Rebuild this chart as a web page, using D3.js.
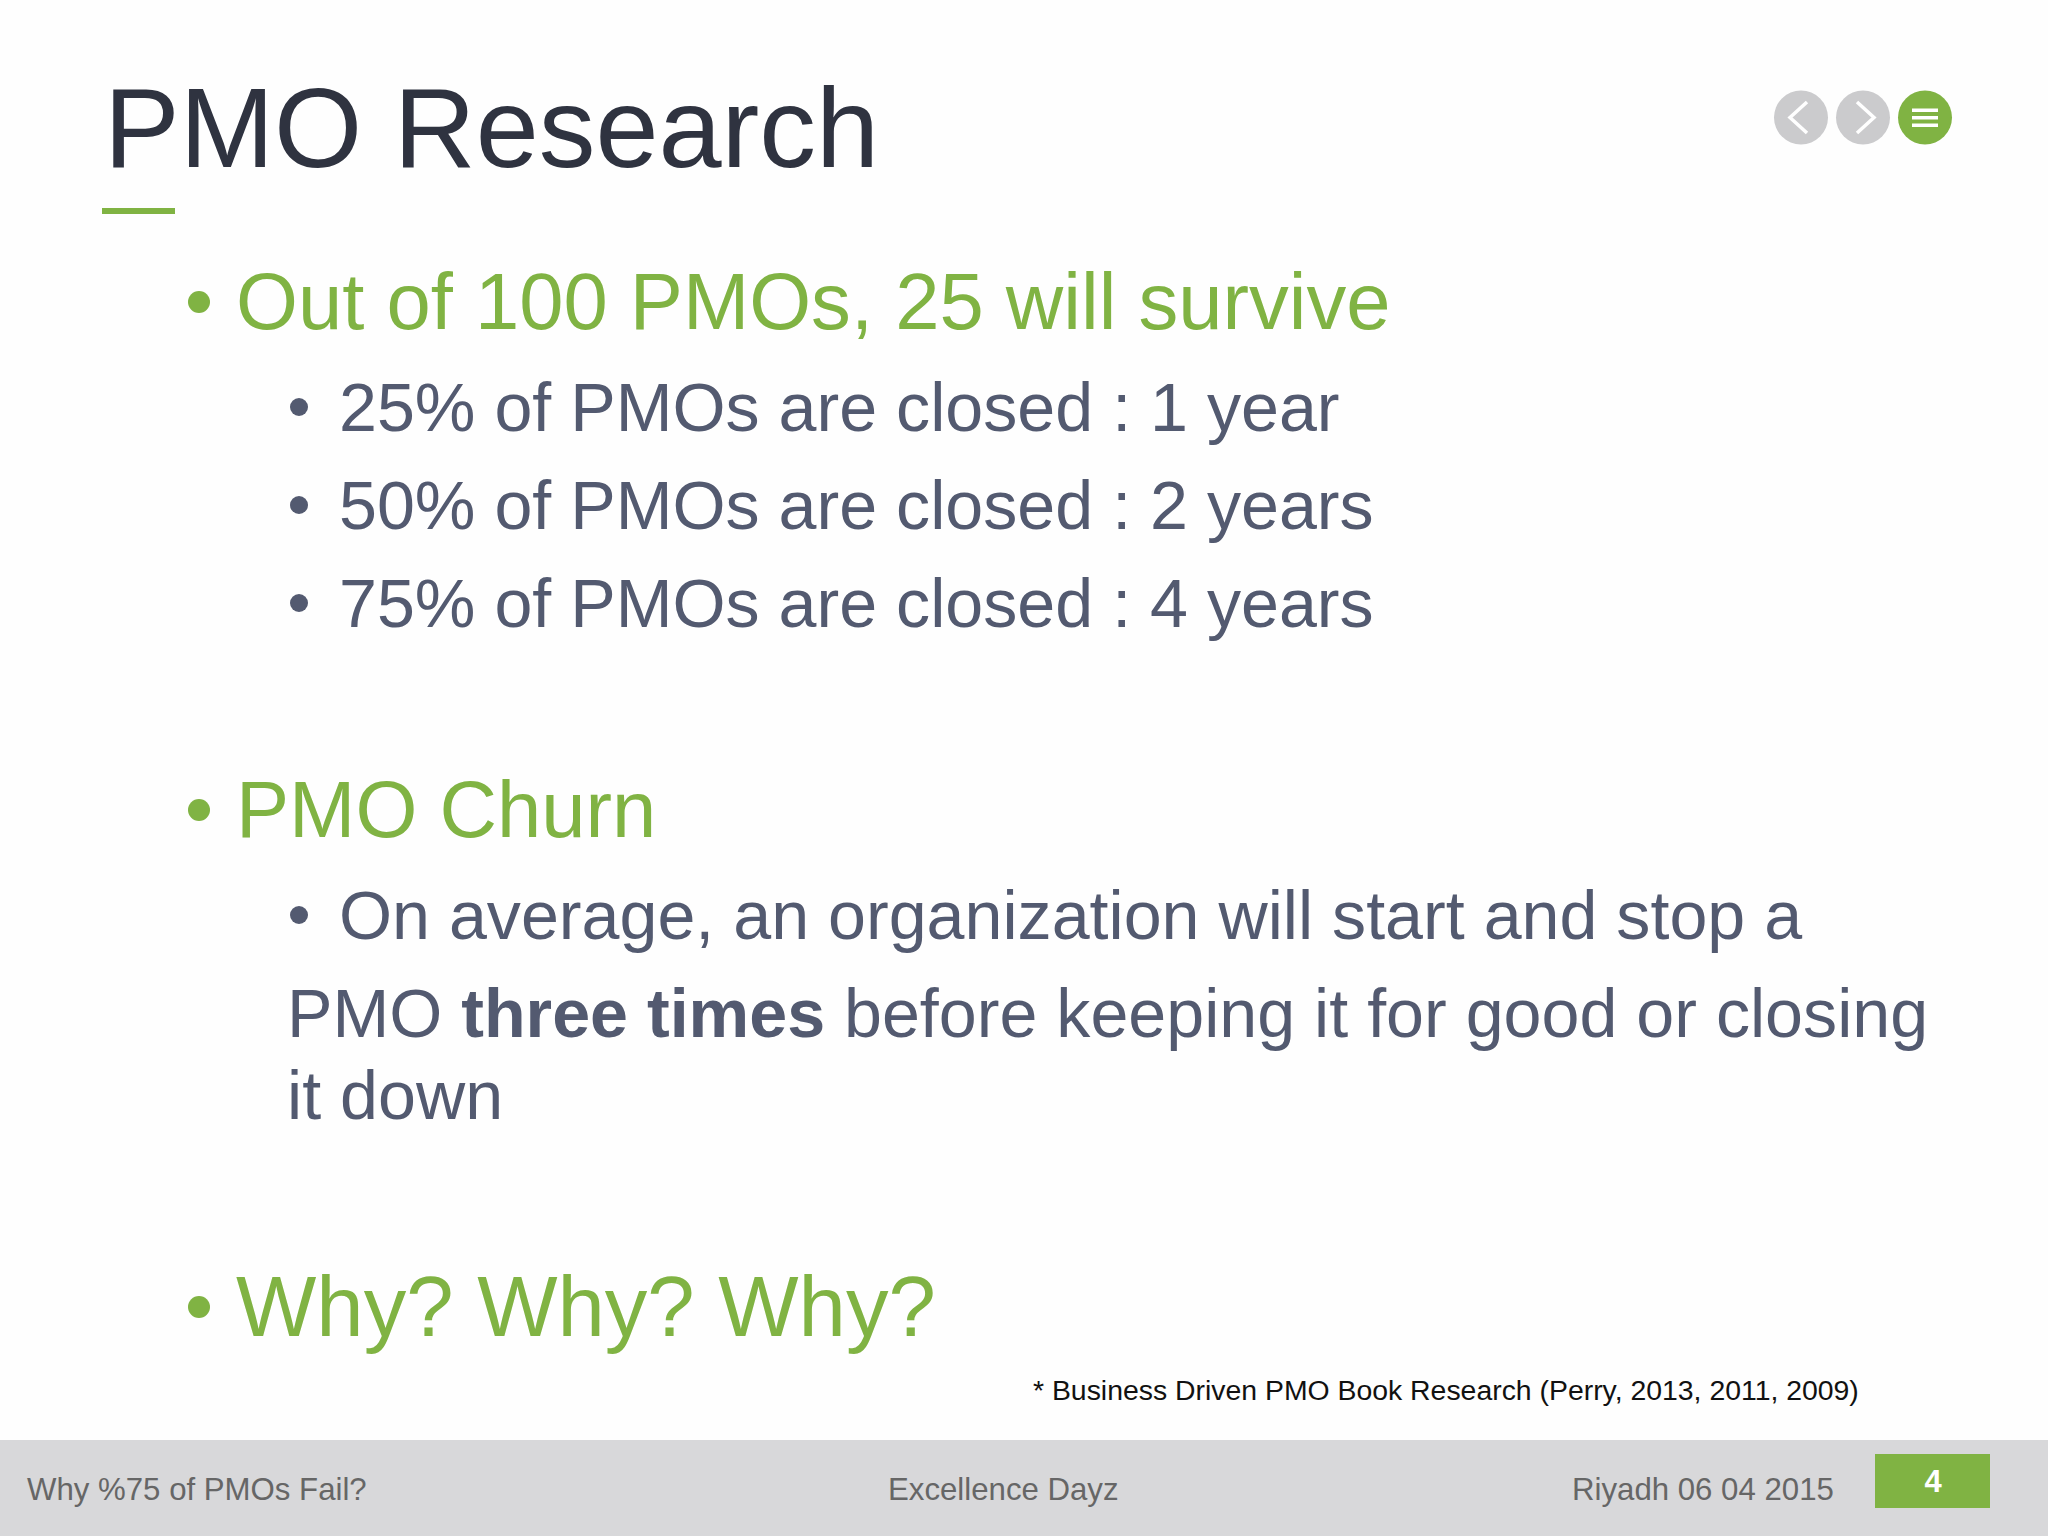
<!DOCTYPE html>
<html>
<head>
  <meta charset="UTF-8">
  <style>
    html, body { margin: 0; padding: 0; background: #fefefe; }
    svg { display: block; }
    text { font-family: "Liberation Sans", Arial, sans-serif; }
  </style>
</head>
<body>
<svg></svg>
<script src="https://d3js.org/d3.v7.min.js"></script>
<script>

let width = 2048, height = 1536;

const titleText = "PMO Research";
const headings = ["Out of 100 PMOs, 25 will survive", "PMO Churn", "Why? Why? Why?"];
const closedLines = ["25% of PMOs are closed : 1 year", "50% of PMOs are closed : 2 years", "75% of PMOs are closed : 4 years"];
const churnFirst = "On average, an organization will start and stop a";
const churnSecond = [["PMO ", false], ["three times", true], [" before keeping it for good or closing", false]];
const churnThird = "it down";
const footnote = "* Business Driven PMO Book Research (Perry, 2013, 2011, 2009)";
const footerLabels = ["Why %75 of PMOs Fail?", "Excellence Dayz", "Riyadh 06 04 2015"];
const pageNumber = "4";

const green = "#80b343", slate = "#535a70", dark = "#2f3340";

let svg = d3.select("svg").attr("width", width).attr("height", height)
    .attr("viewBox", "0 0 " + width + " " + height);

function addText(x, y, str, size, fill) {
    return svg.append("text").attr("x", x).attr("y", y)
        .attr("font-size", size).attr("fill", fill).text(str);
}

function bullet(x, y, r, fill) {
    svg.append("circle").attr("cx", x).attr("cy", y).attr("r", r).attr("fill", fill);
}

// title
addText(104, 167, titleText, 113.4, dark);
svg.append("rect").attr("x", 102).attr("y", 208).attr("width", 73).attr("height", 6).attr("fill", green);

// nav buttons
let navX = d3.scalePoint().domain(["prev", "next", "menu"]).range([1801, 1925]);
svg.append("g").selectAll("circle").data(navX.domain()).enter().append("circle")
    .attr("cx", d => navX(d)).attr("cy", 117.5).attr("r", 27)
    .attr("fill", d => d == "menu" ? green : "#cbcbcd");

svg.append("path").attr("d", "M1807,102 L1790,117.5 L1807,133").attr("fill", "none")
    .attr("stroke", "#fff").attr("stroke-width", 3.5);
svg.append("path").attr("d", "M1857,102 L1874,117.5 L1857,133").attr("fill", "none")
    .attr("stroke", "#fff").attr("stroke-width", 3.5);
svg.append("g").selectAll("rect").data([-7.5, 0, 7.5]).enter().append("rect")
    .attr("x", 1912).attr("y", d => 116 + d).attr("width", 26).attr("height", 3.5).attr("fill", "#fff");

// first level headings
let headingY = [329, 837], headingSize = [79.6, 79.6];
headings.slice(0, 2).forEach((h, i) => {
    bullet(199, headingY[i] - 27, 11, green);
    addText(236, headingY[i], h, headingSize[i], green);
});
bullet(199, 1307, 11, green);
addText(236, 1336, headings[2], 85.1, green);

// second level
let closedY = d3.scalePoint().domain(closedLines).range([431, 627]);
closedLines.forEach(l => {
    bullet(299, closedY(l) - 24, 9, slate);
    addText(339, closedY(l), l, 68.2, slate);
});

bullet(299, 915, 9, slate);
addText(339, 939, churnFirst, 68.2, slate);

let second = svg.append("text").attr("x", 287).attr("y", 1037).attr("font-size", 68.2).attr("fill", slate);
churnSecond.forEach(p => {
    second.append("tspan").attr("font-weight", p[1] ? "bold" : "normal").text(p[0]);
});
addText(287, 1119, churnThird, 68.2, slate);

addText(1033, 1400, footnote, 28.4, "#111");

// footer
svg.append("rect").attr("x", 0).attr("y", 1440).attr("width", width).attr("height", 96).attr("fill", "#d8d8da");
let footerX = [27, 888, 1572];
footerLabels.forEach((l, i) => addText(footerX[i], 1500, l, 31.2, "#666"));
svg.append("rect").attr("x", 1875).attr("y", 1454).attr("width", 115).attr("height", 54).attr("fill", green);
addText(1933, 1492, pageNumber, 31, "#fff").attr("text-anchor", "middle").attr("font-weight", "bold");

</script>
</body>
</html>
